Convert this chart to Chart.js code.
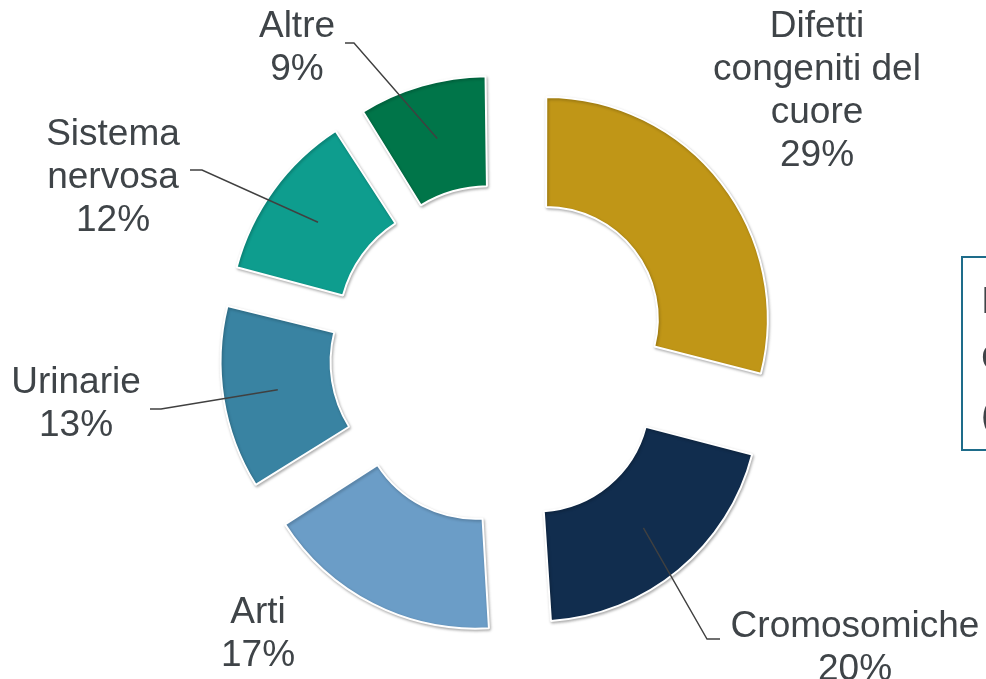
<!DOCTYPE html>
<html>
<head>
<meta charset="utf-8">
<script src="https://cdn.jsdelivr.net/npm/chart.js@4/dist/chart.umd.min.js"></script>
<style>
  html, body { margin: 0; padding: 0; background: #ffffff; overflow: hidden; }
  #wrap { position: relative; width: 986px; height: 679px; }
</style>
</head>
<body>
<div id="wrap"><canvas id="c" width="986" height="679"></canvas></div>
<script>
// ---- data ----
const categories = [
  ['Difetti', 'congeniti del', 'cuore'],
  ['Cromosomiche'],
  ['Arti'],
  ['Urinarie'],
  ['Sistema', 'nervosa'],
  ['Altre']
];
const values = [29, 20, 17, 13, 12, 9];
const sliceColors = ['#C09617', '#112D4E', '#6B9DC7', '#3983A2', '#0E9D8E', '#007549'];
const sideBoxLines = ['I', 'C', '('];

// ---- style / layout ----
const EXPLODE = 60;          // px each slice is pulled out
const FONT = '37px "Liberation Sans", Arial, sans-serif';
const TEXT_COLOR = '#3F4448';
const LINE_H = 43;
// label layout: text centre x, first baseline y, optional leader (label-side point p, elbow e)
const labelLayout = [
  { cx: 817, y: 37 },
  { cx: 855, y: 637, p: [720, 639], e: [707, 639] },
  { cx: 258, y: 623 },
  { cx: 76,  y: 393, p: [150, 409], e: [161, 409] },
  { cx: 113, y: 145, p: [190, 170], e: [202, 170] },
  { cx: 297, y: 37,  p: [345, 43],  e: [354, 43] }
];

function explodeOffset(ctx) {
  const total = values.reduce((a, b) => a + b, 0);
  const v = ctx.raw !== undefined ? ctx.raw : 0;
  const circ = v / total * 2 * Math.PI;
  const fix = 1 - Math.sin(Math.min(Math.PI, circ));
  return 4 * EXPLODE / (1 + fix);
}

const decoPlugin = {
  id: 'deco',
  beforeDatasetsDraw(chart) {
    const ctx = chart.ctx;
    ctx.save();
    ctx.shadowColor = 'rgba(0,0,0,0.28)';
    ctx.shadowBlur = 3;
    ctx.shadowOffsetX = 1;
    ctx.shadowOffsetY = 1.5;
  },
  afterDatasetsDraw(chart) {
    const ctx = chart.ctx;
    ctx.restore();
    const meta = chart.getDatasetMeta(0);
    const total = values.reduce((a, b) => a + b, 0);
    ctx.save();
    meta.data.forEach((arc, i) => {
      const { x, y, startAngle, endAngle, innerRadius, outerRadius } =
        arc.getProps(['x', 'y', 'startAngle', 'endAngle', 'innerRadius', 'outerRadius'], true);
      const off = (arc.options.offset || 0) / 4;
      const circ = endAngle - startAngle;
      const fix = 1 - Math.sin(Math.min(Math.PI, circ));
      const mid = (startAngle + endAngle) / 2;
      const r = off * (1 + fix) + (innerRadius + outerRadius) / 2;
      const ax = x + Math.cos(mid) * r;
      const ay = y + Math.sin(mid) * r;
      const L = labelLayout[i];
      if (L.p) {
        ctx.beginPath();
        ctx.strokeStyle = '#404040';
        ctx.lineWidth = 1.4;
        ctx.moveTo(L.p[0], L.p[1]);
        ctx.lineTo(L.e[0], L.e[1]);
        ctx.lineTo(ax, ay);
        ctx.stroke();
      }
      const lines = categories[i].concat([Math.round(values[i] / total * 100) + '%']);
      ctx.font = FONT;
      ctx.fillStyle = TEXT_COLOR;
      ctx.textAlign = 'center';
      ctx.textBaseline = 'alphabetic';
      lines.forEach((t, k) => ctx.fillText(t, L.cx, L.y + k * LINE_H));
    });
    // partially visible text box at the right edge
    ctx.strokeStyle = '#1E6C8A';
    ctx.lineWidth = 2;
    ctx.strokeRect(962, 257, 120, 193);
    ctx.font = FONT;
    ctx.fillStyle = TEXT_COLOR;
    ctx.textAlign = 'left';
    sideBoxLines.forEach((t, k) => ctx.fillText(t, 981, 313 + k * 57));
    ctx.restore();
  }
};

new Chart(document.getElementById('c'), {
  type: 'doughnut',
  data: {
    labels: categories,
    datasets: [{
      data: values,
      backgroundColor: sliceColors,
      borderColor: '#ffffff',
      borderWidth: 2,
      offset: explodeOffset,
      radius: 220,
      cutout: '50%'
    }]
  },
  options: {
    responsive: false,
    animation: false,
    events: [],
    radius: 220,
    cutout: '50%',
    layout: { padding: { left: 14, top: 30 } },
    plugins: { legend: { display: false }, tooltip: { enabled: false } }
  },
  plugins: [decoPlugin]
});
</script>
</body>
</html>
